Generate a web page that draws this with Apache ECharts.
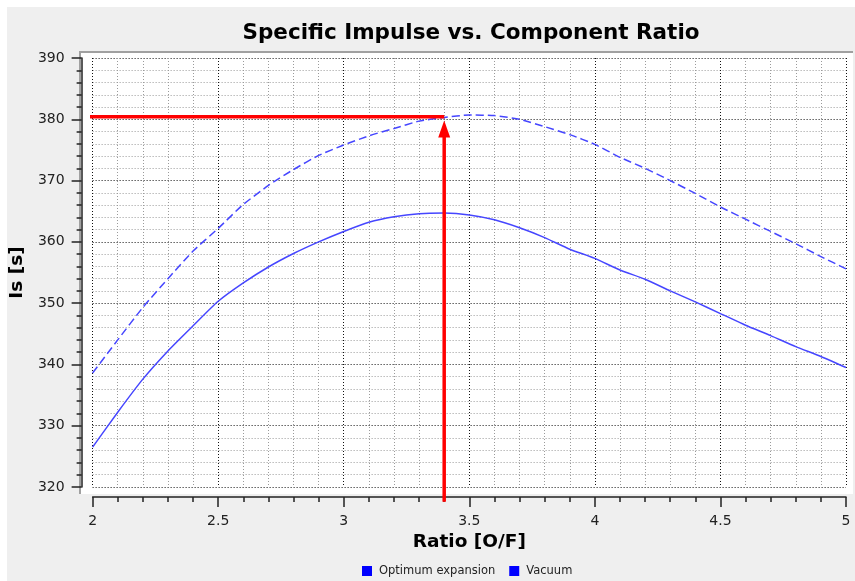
<!DOCTYPE html>
<html>
<head>
<meta charset="utf-8">
<script src="https://cdn.jsdelivr.net/npm/echarts@6/dist/echarts.min.js"></script>
<style>
  html, body { margin: 0; padding: 0; background: #ffffff; }
  #chart { width: 855px; height: 581px; }
</style>
</head>
<body>
<div id="chart"></div>
<script>
// O/F mixture ratio samples
const ratio = [2.0, 2.1, 2.2, 2.3, 2.4, 2.5, 2.6, 2.7, 2.8, 2.9, 3.0, 3.1, 3.2, 3.3, 3.4,
               3.5, 3.6, 3.7, 3.8, 3.9, 4.0, 4.1, 4.2, 4.3, 4.4, 4.5, 4.6, 4.7, 4.8, 4.9, 5.0];
// Specific impulse, optimum expansion [s]
const optimumIs = [326.5, 332.2, 337.6, 342.2, 346.3, 350.3, 353.3, 355.9, 358.1, 360.0, 361.7,
                   363.2, 364.1, 364.6, 364.7, 364.4, 363.6, 362.3, 360.7, 358.8, 357.3,
                   355.4, 353.9, 352.0, 350.2, 348.3, 346.4, 344.7, 342.9, 341.3, 339.5];
// Specific impulse, vacuum [s]
const vacuumIs = [338.6, 344.0, 349.3, 354.0, 358.5, 362.2, 366.1, 369.2, 371.8, 374.1, 375.8,
                  377.3, 378.5, 379.7, 380.3, 380.7, 380.6, 380.0, 378.8, 377.5, 375.9,
                  373.8, 372.0, 370.0, 367.9, 365.7, 363.7, 361.7, 359.7, 357.6, 355.6];
// Highlighted operating point
const markerRatio = 3.4;
const markerIs = 380.4;
// Axis ranges and tick spacing
const xRange = [2, 5], xStep = 0.5;
const yRange = [320, 390], yStep = 10;
const seriesNames = ['Optimum expansion', 'Vacuum'];

const FONT = 'DejaVu Sans';
const chart = echarts.init(document.getElementById('chart'));

const pairs = (xs, ys) => xs.map((x, i) => [x, ys[i]]);

const majorGrid = { show: true, lineStyle: { color: '#111', width: 1, type: [1, 2] } };
const minorGrid = { show: true, lineStyle: { color: '#9a9a9a', width: 1, type: [1, 2] } };
const tickStyle = { color: '#222', width: 1.5 };

chart.setOption({
  backgroundColor: '#ffffff',
  animation: false,
  title: {
    text: 'Specific Impulse vs. Component Ratio',
    left: 466, top: 17, textAlign: 'center',
    textStyle: { fontFamily: FONT, fontSize: 21.5, fontWeight: 'bold', color: '#000' }
  },
  legend: {
    data: seriesNames,
    left: 362, top: 565, padding: 0,
    icon: 'rect', itemWidth: 10, itemHeight: 10, itemGap: 14,
    textStyle: { fontFamily: FONT, fontSize: 11.5, color: '#222', padding: [0, 0, 0, 2] }
  },
  graphic: {
    elements: [
      { type: 'rect', z: -20, silent: true,
        shape: { x: 7, y: 7, width: 848, height: 574 }, style: { fill: '#efefef' } },
      { type: 'rect', z: -19, silent: true,
        shape: { x: 79, y: 51, width: 774, height: 443 }, style: { fill: '#ffffff' } },
      { type: 'polyline', z: -18, silent: true,
        shape: { points: [[80, 494], [80, 52], [853, 52]] },
        style: { stroke: '#a0a0a0', lineWidth: 2, fill: null } }
    ]
  },
  grid: { left: 87, top: 58, width: 759, height: 429, containLabel: false },
  xAxis: {
    type: 'value', min: xRange[0], max: xRange[1], interval: xStep,
    offset: 10,
    name: 'Ratio [O/F]', nameLocation: 'middle', nameGap: 36,
    nameTextStyle: { fontFamily: FONT, fontSize: 18.5, fontWeight: 'bold', color: '#000' },
    axisLine: { show: true, lineStyle: tickStyle },
    axisTick: { show: true, length: 10, lineStyle: tickStyle },
    minorTick: { show: true, splitNumber: 5, length: 5, lineStyle: tickStyle },
    axisLabel: { margin: 17, fontFamily: FONT, fontSize: 14, color: '#222',
                 formatter: v => String(v) },
    splitLine: majorGrid,
    minorSplitLine: minorGrid
  },
  yAxis: {
    type: 'value', min: yRange[0], max: yRange[1], interval: yStep,
    offset: 11,
    name: 'Is [s]', nameLocation: 'middle', nameGap: 44, nameRotate: 90,
    nameTextStyle: { fontFamily: FONT, fontSize: 18.5, fontWeight: 'bold', color: '#000' },
    axisLine: { show: true, lineStyle: tickStyle },
    axisTick: { show: true, length: 10, lineStyle: tickStyle },
    minorTick: { show: true, splitNumber: 5, length: 5, lineStyle: tickStyle },
    axisLabel: { margin: 17, fontFamily: FONT, fontSize: 14, color: '#222' },
    splitLine: majorGrid,
    minorSplitLine: minorGrid
  },
  series: [
    {
      name: seriesNames[0], type: 'line', data: pairs(ratio, optimumIs),
      showSymbol: false, color: '#0000ff', smooth: 0.2,
      lineStyle: { color: '#4646ff', width: 1.5 }, z: 3
    },
    {
      name: seriesNames[1], type: 'line', data: pairs(ratio, vacuumIs),
      showSymbol: false, color: '#0000ff', smooth: 0.2,
      lineStyle: { color: '#4646ff', width: 1.5, type: [8, 4] }, z: 3
    },
    {
      // horizontal guide from the left edge of the plot to the operating point
      name: 'guideH', type: 'line', clip: false, silent: true, z: 5,
      data: [[xRange[0] - 0.0265, markerIs], [markerRatio, markerIs]],
      showSymbol: false, color: '#ff0000',
      lineStyle: { color: '#ff0000', width: 3.5 }
    },
    {
      // vertical arrow from below the x axis up to the operating point
      name: 'guideV', type: 'line', clip: false, silent: true, z: 5,
      data: [
        { value: [markerRatio, yRange[0] - 2.4], symbol: 'none' },
        { value: [markerRatio, markerIs - 2.0], symbol: 'triangle', symbolSize: [12, 17] }
      ],
      showSymbol: true, showAllSymbol: true, color: '#ff0000',
      itemStyle: { color: '#ff0000' },
      lineStyle: { color: '#ff0000', width: 3.5 }
    }
  ]
});
</script>
</body>
</html>
